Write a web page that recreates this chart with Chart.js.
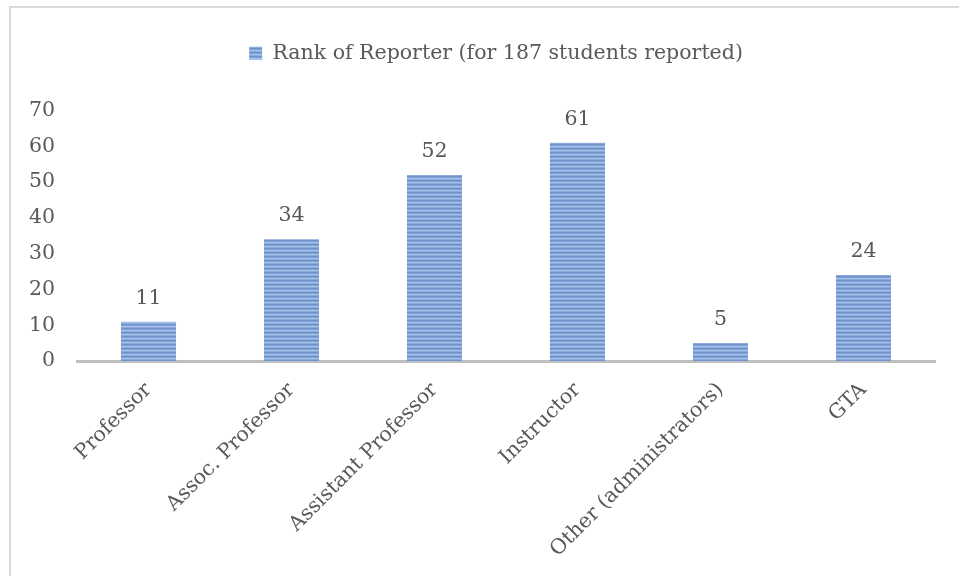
<!DOCTYPE html>
<html>
<head>
<meta charset="utf-8">
<script src="https://cdn.jsdelivr.net/npm/chart.js@4/dist/chart.umd.min.js"></script>
<style>
  html, body { margin: 0; padding: 0; background: #ffffff; }
  #wrap { position: relative; width: 959px; height: 576px; }
  canvas { display: block; }
</style>
</head>
<body>
<div id="wrap"><canvas id="c" width="959" height="576"></canvas></div>
<script>
const categories = ['Professor', 'Assoc. Professor', 'Assistant Professor', 'Instructor', 'Other (administrators)', 'GTA'];
const seriesName = 'Rank of Reporter (for 187 students reported)';
const seriesValues = [11, 34, 52, 61, 5, 24];
const yTicks = [0, 10, 20, 30, 40, 50, 60, 70];

const FONT = "'DejaVu Serif', 'Liberation Serif', serif";
const FS = 20.5;
const TEXT = '#595959';

function stripePattern() {
  const p = document.createElement('canvas');
  p.width = 4; p.height = 4;
  const g = p.getContext('2d');
  const rows = ['#6f93cd', '#7c9fd6', '#abc2e7', '#8aaadc'];
  rows.forEach((c, i) => { g.fillStyle = c; g.fillRect(0, i, 4, 1); });
  return document.getElementById('c').getContext('2d').createPattern(p, 'repeat');
}

const framePlugin = {
  id: 'frame',
  beforeDraw(chart) {
    const ctx = chart.ctx;
    ctx.save();
    ctx.fillStyle = '#ffffff';
    ctx.fillRect(0, 0, chart.width, chart.height);
    ctx.strokeStyle = '#d9d9d9';
    ctx.lineWidth = 2;
    ctx.beginPath();
    ctx.moveTo(10, chart.height + 5);
    ctx.lineTo(10, 7);
    ctx.lineTo(chart.width + 5, 7);
    ctx.stroke();
    ctx.restore();
  }
};

const legendSpacer = {
  id: 'legendSpacer',
  beforeLayout(chart) {
    const lg = chart.legend;
    if (lg && !lg._spaced) {
      const orig = lg.fit.bind(lg);
      lg.fit = function () { orig(); this.height += 37; };
      lg._spaced = true;
    }
  },
  afterLayout(chart) {
    if (chart.legend) { chart.legend.left = 57; }
  }
};

const valueLabels = {
  id: 'valueLabels',
  afterDatasetsDraw(chart) {
    const ctx = chart.ctx;
    const meta = chart.getDatasetMeta(0);
    ctx.save();
    ctx.fillStyle = TEXT;
    ctx.font = FS + 'px ' + FONT;
    ctx.textAlign = 'center';
    ctx.textBaseline = 'alphabetic';
    meta.data.forEach((bar, i) => {
      ctx.fillText(String(seriesValues[i]), bar.x, bar.y - 18);
    });
    ctx.restore();
  }
};

new Chart(document.getElementById('c'), {
  type: 'bar',
  data: {
    labels: categories,
    datasets: [{
      label: seriesName,
      data: seriesValues,
      backgroundColor: stripePattern(),
      borderWidth: 0,
      categoryPercentage: 1,
      barPercentage: 0.385
    }]
  },
  options: {
    responsive: false,
    animation: false,
    layout: { padding: { left: 12, right: 24, top: 33, bottom: 0 } },
    plugins: {
      legend: {
        display: true,
        position: 'top',
        labels: {
          color: TEXT,
          font: { family: FONT, size: FS },
          boxWidth: 13,
          boxHeight: 13,
          padding: 10
        }
      },
      tooltip: { enabled: false }
    },
    scales: {
      x: {
        grid: { display: false, drawTicks: false },
        border: { display: true, color: '#bfbfbf', width: 3 },
        ticks: {
          color: TEXT,
          font: { family: FONT, size: FS },
          minRotation: 45,
          maxRotation: 45,
          padding: 17,
          autoSkip: false
        },
        afterFit(s) { s.height = 215; }
      },
      y: {
        min: 0,
        max: 70,
        grid: { display: false, drawTicks: false },
        border: { display: false },
        afterBuildTicks(s) { s.ticks = yTicks.map(v => ({ value: v })); },
        ticks: {
          color: TEXT,
          font: { family: FONT, size: FS },
          padding: 22,
          autoSkip: false
        },
        afterFit(s) { s.width = 65; }
      }
    }
  },
  plugins: [framePlugin, legendSpacer, valueLabels]
});
</script>
</body>
</html>
